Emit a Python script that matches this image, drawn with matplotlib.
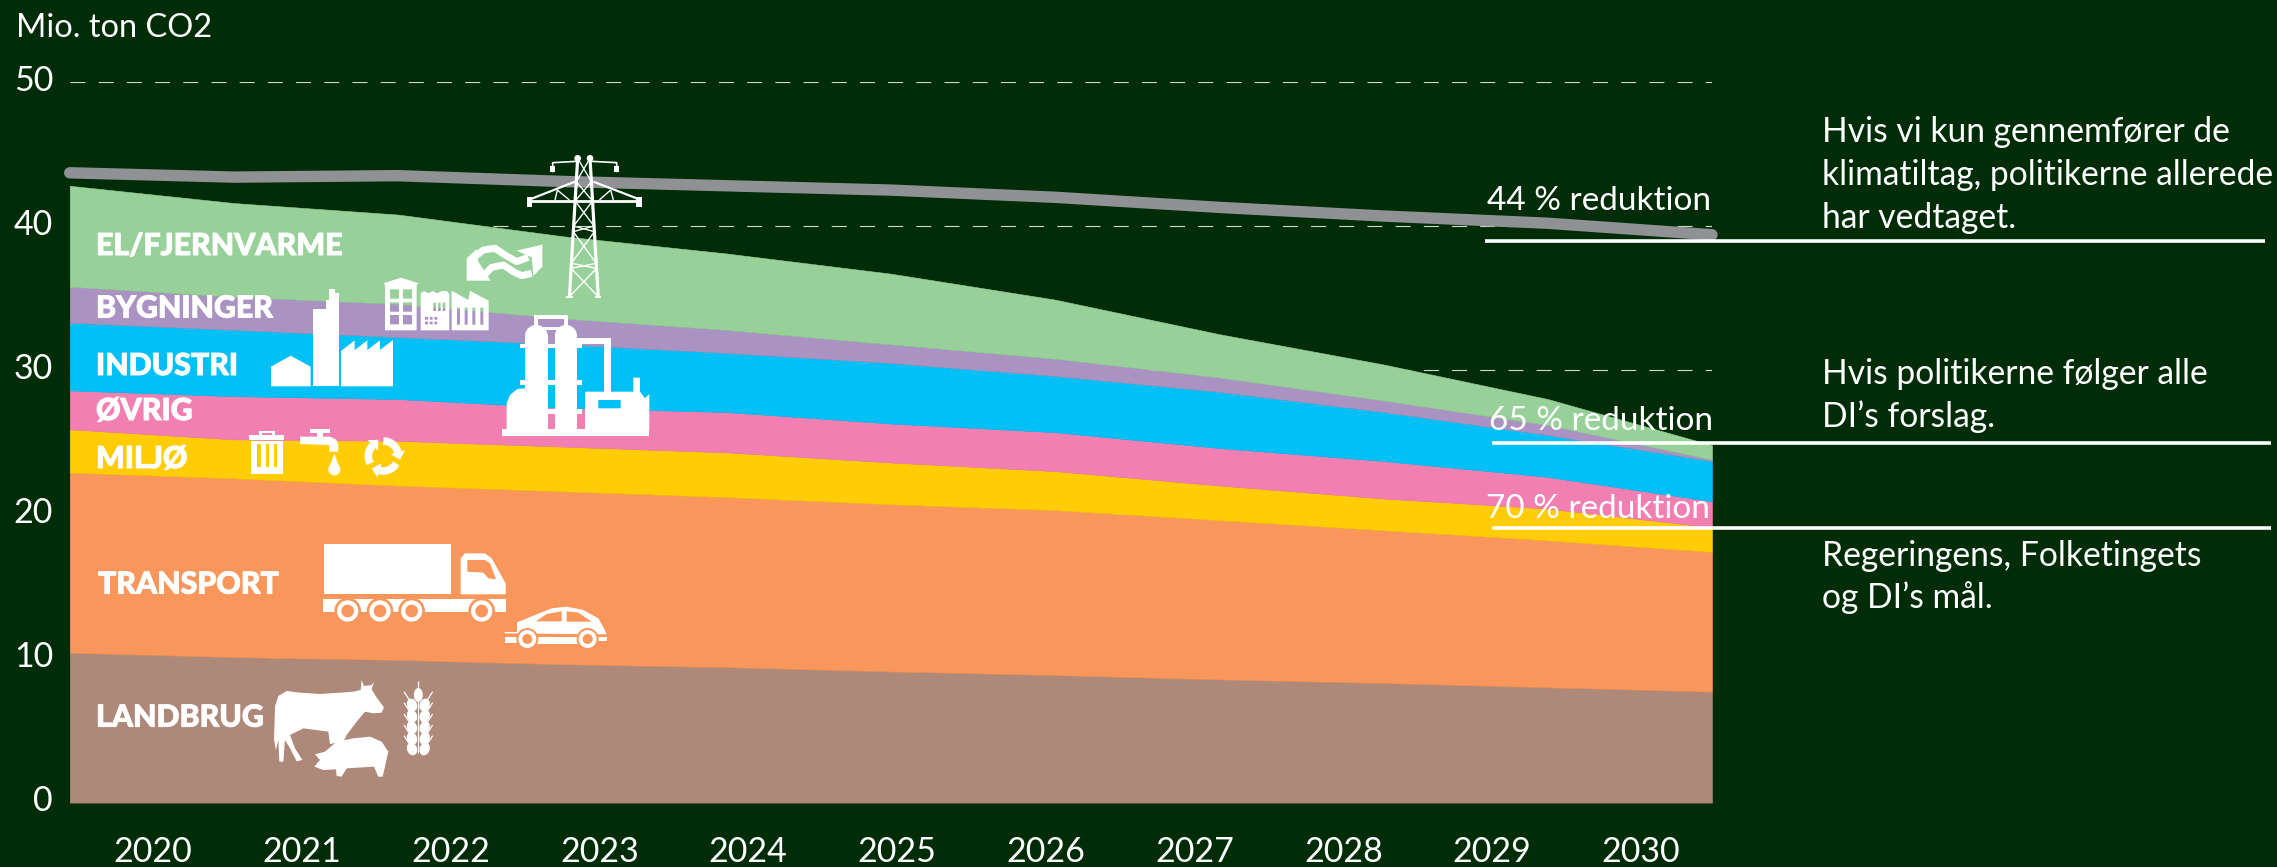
import numpy as np
import matplotlib
matplotlib.use('Agg')
import matplotlib.pyplot as plt
import matplotlib.patheffects as pe
from matplotlib.patches import Circle, Ellipse, Rectangle, PathPatch
from matplotlib.path import Path
from matplotlib.transforms import ScaledTranslation

# values, mio. ton CO2
years = [2020, 2021, 2022, 2023, 2024, 2025, 2026, 2027, 2028, 2029, 2030]
landbrug = [10.4, 10.1, 9.9, 9.6, 9.4, 9.1, 8.85, 8.55, 8.3, 8.0, 7.7]
transport = [12.5, 12.4, 12.1, 12.0, 11.8, 11.6, 11.45, 11.05, 10.6, 10.2, 9.7]
miljo = [3.0, 2.7, 3.1, 3.1, 3.1, 2.9, 2.7, 2.4, 2.2, 2.2, 1.7]
ovrig = [2.7, 3.0, 2.9, 2.7, 2.8, 2.7, 2.7, 2.6, 2.6, 2.2, 1.8]
industri = [4.7, 4.6, 4.3, 4.4, 4.1, 4.2, 3.9, 3.9, 3.4, 2.9, 2.8]
bygninger = [2.5, 2.3, 2.3, 1.8, 1.6, 1.3, 1.2, 1.0, 0.8, 0.7, 0.1]
el = [7.0, 6.5, 6.2, 5.7, 5.3, 4.9, 4.1, 3.0, 2.5, 1.8, 1.0]
vedtaget = [43.7, 43.4, 43.5, 43.1, 42.8, 42.5, 42.0, 41.3, 40.7, 40.2, 39.4]

colors = ['#AE8879', '#F8965B', '#FFCC05', '#F27FB2', '#00C0F5', '#AA92C2', '#97D199']
bg = '#002D08'
orange = colors[1]
W, H = 2277, 867

plt.rcParams['font.family'] = ['Lato', 'DejaVu Sans']
plt.rcParams['lines.scale_dashes'] = False

fig = plt.figure(figsize=(W / 100, H / 100), dpi=100, facecolor=bg)
ax = fig.add_axes([69.7 / W, (H - 802.6) / H, 1642.3 / W, 720.6 / H], facecolor=bg)
x = np.arange(len(years))
ax.stackplot(x, landbrug, transport, miljo, ovrig, industri, bygninger, el, colors=colors, zorder=1,
             edgecolor='face', linewidth=0.4)
ax.plot(x, vedtaget, color='#8F9195', lw=8.2, solid_capstyle='round', clip_on=False, zorder=2)
ax.set_xlim(0, 10)
ax.set_ylim(0, 50)
for s in ax.spines.values():
    s.set_visible(False)
ax.set_axisbelow(True)
ax.grid(axis='y', color='#D4D8D0', lw=0.8, linestyle=(0, (10.8, 9.5)))
# the year labels do not sit under the data points in the original
ax.set_xticks(0.507 + 0.906 * x, years)
ax.set_yticks([0, 10, 20, 30, 40, 50])
ax.tick_params(length=0, labelcolor='white', labelsize=24.5)
ax.tick_params(axis='x', pad=24)
ax.tick_params(axis='y', pad=12)
for lab in ax.get_yticklabels():
    lab.set_transform(lab.get_transform() + ScaledTranslation(0, 3 / 72, fig.dpi_scale_trans))

# overlay in pixel coordinates for texts and icons
ov = fig.add_axes([0, 0, 1, 1])
ov.set_xlim(0, W)
ov.set_ylim(H, 0)
ov.axis('off')


def txt(px, py, s, size=24.2, weight='normal', **kw):
    return ov.text(px, py, s, color='white', fontsize=size, fontweight=weight, va='baseline', zorder=6, **kw)


txt(16, 37, 'Mio. ton CO2', size=23.5)
for px, py, s in [(1487, 210, '44 % reduktion'), (1489, 430, '65 % reduktion'), (1486, 518, '70 % reduktion')]:
    txt(px, py, s, size=24)
for x0, x1, py in [(1485, 2265, 241.3), (1492, 2271, 442.5), (1492, 2271, 528.4)]:
    ov.plot([x0, x1], [py, py], color='white', lw=2.6, solid_capstyle='butt')

notes = [(142, 'Hvis vi kun gennemfører de'), (185, 'klimatiltag, politikerne allerede'), (227.5, 'har vedtaget.'),
         (384, 'Hvis politikerne følger alle'), (427, 'DI’s forslag.'),
         (566, 'Regeringens, Folketingets'), (608, 'og DI’s mål.')]
for py, s in notes:
    txt(1822, py, s)

sectors = [(96, 255, 'EL/FJERNVARME'), (96, 317.5, 'BYGNINGER'), (96, 375, 'INDUSTRI'), (96, 420, 'ØVRIG'),
           (96, 468, 'MILJØ'), (98, 593.6, 'TRANSPORT'), (96, 726.6, 'LANDBRUG')]
for px, py, s in sectors:
    t = txt(px, py, s, size=21.8, weight='black')
    t.set_path_effects([pe.withStroke(linewidth=0.7, foreground='white')])


# icons, coordinates measured on 3x crops
def rev(p):
    p = np.asarray(p, float)
    area = np.sum(p[:, 0] * np.roll(p[:, 1], -1) - np.roll(p[:, 0], -1) * p[:, 1])
    return p if area > 0 else p[::-1]


def shape(ox, oy, outer, holes=(), fc='white'):
    verts, codes = [], []
    for i, ring in enumerate([outer] + list(holes)):
        r = rev(ring)
        if i > 0:
            r = r[::-1]
        r = np.vstack([r, r[:1]])
        verts.append(r)
        codes += [Path.MOVETO] + [Path.LINETO] * (len(r) - 2) + [Path.CLOSEPOLY]
    v = np.vstack(verts) / 3 + [ox, oy]
    ov.add_patch(PathPatch(Path(v, codes), fc=fc, ec='none', zorder=5))


def box(x0, y0, x1, y1):
    return [(x0, y0), (x1, y0), (x1, y1), (x0, y1)]


def stroke(ox, oy, pts, lw, color='white', cap='round'):
    p = np.asarray(pts, float) / 3 + [ox, oy]
    ov.plot(p[:, 0], p[:, 1], color=color, lw=lw, solid_capstyle=cap, solid_joinstyle='round', zorder=5)


def disc(ox, oy, cx, cy, r, fc='white', z=5):
    ov.add_patch(Circle((ox + cx / 3, oy + cy / 3), r / 3, fc=fc, ec='none', zorder=z))


# factory row
ox, oy = 250, 150
shape(ox, oy, [(63, 709), (63, 650), (122, 617), (182, 650), (182, 709)])
shape(ox, oy, [(188, 709), (188, 478), (228, 478), (228, 450), (236, 450), (236, 418), (256, 418), (256, 430),
               (267, 430), (267, 709)])
shape(ox, oy, [(273, 709), (273, 603), (314, 571), (314, 600), (352, 571), (352, 600), (390, 571), (390, 600),
               (429, 570), (429, 709)])
# buildings
wins = [box(a, b, a + 27, b + 28) for a in (420, 459) for b in (418, 457, 495)]
shape(ox, oy, [(405, 541), (405, 405), (400, 400), (453, 383), (506, 400), (500, 405), (500, 541)], wins)
small = [box(a, 458, a + 8, 483) for a in (550, 564, 578)] + [box(a, b, a + 9, b + 8) for a in (525, 539, 553) for b in (501, 515)]
shape(ox, oy, [(512, 541), (512, 430), (522, 423), (536, 430), (548, 423), (562, 430), (575, 423), (590, 423),
               (598, 432), (598, 541)], small)
bars = [box(a, 473, a + 9, 524) for a in (621, 644, 667, 691)]
shape(ox, oy, [(605, 541), (605, 422), (655, 450), (660, 422), (716, 452), (716, 541)], bars)
# heat and power arrows
stroke(ox, oy, [(672, 322), (700, 300), (735, 295), (770, 318), (800, 335), (835, 322)], 5.0, cap='butt')
stroke(ox, oy, [(700, 378), (725, 352), (760, 345), (790, 365), (815, 377), (845, 370)], 5.0, cap='butt')
shape(ox, oy, [(650, 392), (650, 325), (680, 297), (685, 335), (722, 392)])
shape(ox, oy, [(800, 302), (877, 284), (877, 350), (850, 378), (845, 322)])

# pylon
ox, oy = 480, 140


def leg(y, side):
    d = 25 * (y - 55) / 420
    return 293 - d if side == 0 else 330 + d


levels = [55, 125, 183, 258, 275, 370, 385, 470]
stroke(ox, oy, [(leg(55, 0), 55), (leg(470, 0), 470)], 2.3, cap='butt')
stroke(ox, oy, [(leg(55, 1), 55), (leg(470, 1), 470)], 2.3, cap='butt')
for a, b in zip(levels[:-1], levels[1:]):
    stroke(ox, oy, [(leg(a, 0), a), (leg(b, 1), b)], 1.0, cap='butt')
    stroke(ox, oy, [(leg(a, 1), a), (leg(b, 0), b)], 1.0, cap='butt')
disc(ox, oy, 293, 55, 10)
disc(ox, oy, 330, 55, 10)
stroke(ox, oy, [(145, 183), (480, 183)], 2.0, cap='butt')
stroke(ox, oy, [(150, 178), (285, 125)], 1.6, cap='butt')
stroke(ox, oy, [(478, 178), (340, 125)], 1.6, cap='butt')
stroke(ox, oy, [(225, 180), (232, 150), (268, 180)], 1.0, cap='butt')
stroke(ox, oy, [(358, 180), (392, 150), (400, 180)], 1.0, cap='butt')
stroke(ox, oy, [(218, 97), (218, 68), (290, 64)], 1.2, cap='butt')
stroke(ox, oy, [(335, 64), (410, 68), (410, 97)], 1.2, cap='butt')
shape(ox, oy, box(140, 172, 156, 200))
shape(ox, oy, box(469, 172, 485, 200))
shape(ox, oy, box(210, 78, 226, 97))
shape(ox, oy, box(402, 78, 418, 97))
stroke(ox, oy, [(258, 470), (278, 470)], 1.5, cap='butt')
stroke(ox, oy, [(345, 470), (362, 470)], 1.5, cap='butt')

# refinery
shape(ox, oy, box(65, 868, 508, 888))
for a, b in [(135, 203), (225, 291)]:
    shape(ox, oy, box(a, 585, b, 870))
    ov.add_patch(Ellipse((ox + (a + b) / 6, oy + 587 / 3), (b - a) / 3, 64 / 3, fc='white', ec='none', zorder=5))
shape(ox, oy, box(120, 612, 305, 625))
shape(ox, oy, box(120, 720, 305, 735))
shape(ox, oy, box(200, 808, 305, 821))
shape(ox, oy, box(162, 525, 265, 560), [box(174, 537, 253, 570)])
shape(ox, oy, [(80, 870), (80, 790), (90, 765), (112, 747), (135, 745), (135, 870)])
shape(ox, oy, [(291, 593), (393, 593), (393, 755), (373, 755), (373, 612), (291, 612)])
shape(ox, oy, [(315, 755), (460, 755), (460, 713), (480, 713), (480, 755), (495, 775), (508, 762), (508, 870), (315, 870)],
      [box(355, 780, 422, 805)])

# trash, tap, drop, recycle
ox, oy = 250, 420
shape(ox, oy, box(-2, 45, 102, 60))
shape(ox, oy, box(26, 32, 76, 46), [box(36, 40, 66, 50)])
holes = [box(a, 72, a + 10, 142) for a in (22, 47, 72)]
shape(ox, oy, box(2, 62, 100, 162), holes)
shape(ox, oy, box(180, 28, 240, 40))
shape(ox, oy, box(200, 38, 220, 52))
shape(ox, oy, [(150, 50), (240, 50), (258, 58), (265, 72), (265, 95), (238, 95), (238, 75), (150, 72)])
disc(ox, oy, 253, 148, 18)
shape(ox, oy, [(253, 100), (270, 148), (236, 148)])
for a in (30, 150, 270):
    t = np.radians(np.linspace(a, a + 75, 8))
    arc = np.c_[400 + 45 * np.cos(t), 108 + 45 * np.sin(t)]
    stroke(ox, oy, arc, 5.5, cap='butt')
    e = np.radians(a + 75)
    u = np.array([-np.sin(e), np.cos(e)])
    n = np.array([np.cos(e), np.sin(e)])
    c = np.array([400, 108]) + 45 * n
    shape(ox, oy, [c + 22 * n, c - 22 * n, c + 24 * u])

# truck and car
shape(ox, oy, box(222, 371, 602, 523))
shape(ox, oy, [(632, 523), (632, 415), (645, 400), (705, 400), (725, 415), (767, 490), (767, 523)],
      [[(652, 420), (705, 420), (720, 430), (738, 478), (715, 475), (700, 458), (652, 455)]])
shape(ox, oy, box(220, 538, 767, 577))
for cx in (293, 390, 485, 695):
    disc(ox, oy, cx, 573, 40, fc=orange, z=5.1)
    disc(ox, oy, cx, 573, 32, z=5.2)
    disc(ox, oy, cx, 573, 19, fc=orange, z=5.3)
ov.add_patch(Rectangle((ox + 200 / 3, oy + 606 / 3), 200, 10, fc=orange, ec='none', zorder=5.05))
shape(ox, oy, [(763, 640), (775, 618), (855, 585), (905, 565), (950, 560), (1000, 570), (1045, 595), (1062, 625),
               (1070, 643)],
      [[(858, 604), (890, 582), (935, 574), (935, 604)], [(950, 574), (985, 578), (1025, 605), (950, 605)]])
shape(ox, oy, box(765, 650, 800, 668))
shape(ox, oy, box(862, 652, 985, 672))
shape(ox, oy, box(1045, 652, 1070, 662))
for cx in (832, 1013):
    disc(ox, oy, cx, 657, 33, fc=orange, z=5.1)
    disc(ox, oy, cx, 657, 27, z=5.2)
    disc(ox, oy, cx, 657, 15, fc=orange, z=5.3)

# cow, pig, wheat
shape(ox, oy, [(72, 960), (75, 860), (85, 828), (110, 813), (150, 818), (210, 822), (270, 818), (310, 815), (332, 810),
               (335, 780), (342, 798), (365, 795), (372, 785), (365, 808), (378, 830), (402, 862), (395, 878),
               (370, 880), (345, 875), (320, 905), (290, 945), (280, 965), (240, 972), (235, 935), (160, 925),
               (120, 945), (135, 985), (157, 1020), (140, 1024), (120, 985), (105, 960), (100, 1025), (88, 1025),
               (85, 960), (78, 990)])
shape(ox, oy, [(193, 1040), (210, 1020), (195, 1003), (225, 995), (260, 965), (310, 955), (360, 950), (395, 965),
               (415, 995), (398, 1070), (385, 1070), (372, 1040), (290, 1045), (275, 1070), (260, 1068), (258, 1048),
               (220, 1050)])
stroke(ox, oy, [(505, 783), (505, 1000)], 0.9, cap='butt')
ov.add_patch(Ellipse((ox + 505 / 3, oy + 825 / 3), 9, 14, fc='white', ec='none', zorder=5))
for cy in (855, 888, 922, 955, 987):
    for cx, ang in [(486, -20), (524, 20)]:
        ov.add_patch(Ellipse((ox + cx / 3, oy + cy / 3), 10, 13, angle=ang, fc='white', ec='none', zorder=5))
    stroke(ox, oy, [(462, cy - 40), (478, cy - 15)], 0.9, cap='butt')
    stroke(ox, oy, [(548, cy - 40), (532, cy - 15)], 0.9, cap='butt')

fig.savefig('out.png', dpi=100, facecolor=bg)
